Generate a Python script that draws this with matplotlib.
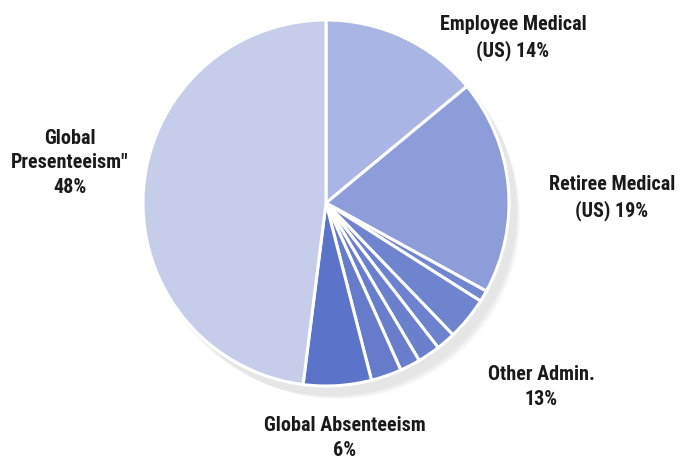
import matplotlib.pyplot as plt
from matplotlib.patches import Circle
from matplotlib import font_manager

# slices clockwise from 12 o'clock
labels = ["Employee Medical", "Retiree Medical",
          "Admin 1", "Admin 2", "Admin 3", "Admin 4", "Admin 5", "Admin 6",
          "Global Absenteeism", "Global Presenteeism"]
values = [14, 19, 1.0, 3.8, 1.7, 2.0, 1.8, 2.7, 6, 48]
colors = ["#a9b5e2", "#8d9dda",
          "#7186d0", "#6f84cf", "#6c82ce", "#6a80cd", "#687ecc", "#667ccb",
          "#5b73c8", "#c6cdea"]

label_texts = ["Employee Medical\n(US) 14%", "Retiree Medical\n(US) 19%",
               "Other Admin.\n13%", "Global Absenteeism\n6%",
               "Global\nPresenteeism\"\n48%"]
label_pos = [(513, 424), (612, 264), (541, 75), (345, 24), (70, 299)]

names = {f.name for f in font_manager.fontManager.ttflist}
fam = ["DejaVu Sans"]
for cand in ["Liberation Sans Narrow", "Roboto Condensed", "Open Sans Condensed"]:
    if cand in names:
        fam = [cand, "DejaVu Sans"]
        break

fig = plt.figure(figsize=(6.82, 4.62), dpi=100)
ax = fig.add_axes([0, 0, 1, 1])

cx, cy, r = 326, 259, 183

# soft shadow to the lower right
for i in range(4):
    ax.add_patch(Circle((cx + 6 + i * 2, cy - 8 - i * 2), r + 2 - i, color="#888888",
                        alpha=0.05, lw=0, zorder=0))

ax.pie(values, colors=colors, startangle=90, counterclock=False,
       center=(cx, cy), radius=r, frame=True,
       wedgeprops=dict(edgecolor="white", linewidth=2.2))
ax.set_xlim(0, 682)
ax.set_ylim(0, 462)
ax.set_aspect("equal")
ax.axis("off")

for txt, (x, y) in zip(label_texts, label_pos):
    ax.text(x, y, txt, ha="center", va="center", fontsize=14.5, fontweight="bold",
            family=fam, fontstretch="condensed", color="#1a1a1a",
            linespacing=1.35)

fig.savefig("out.png", dpi=100)
